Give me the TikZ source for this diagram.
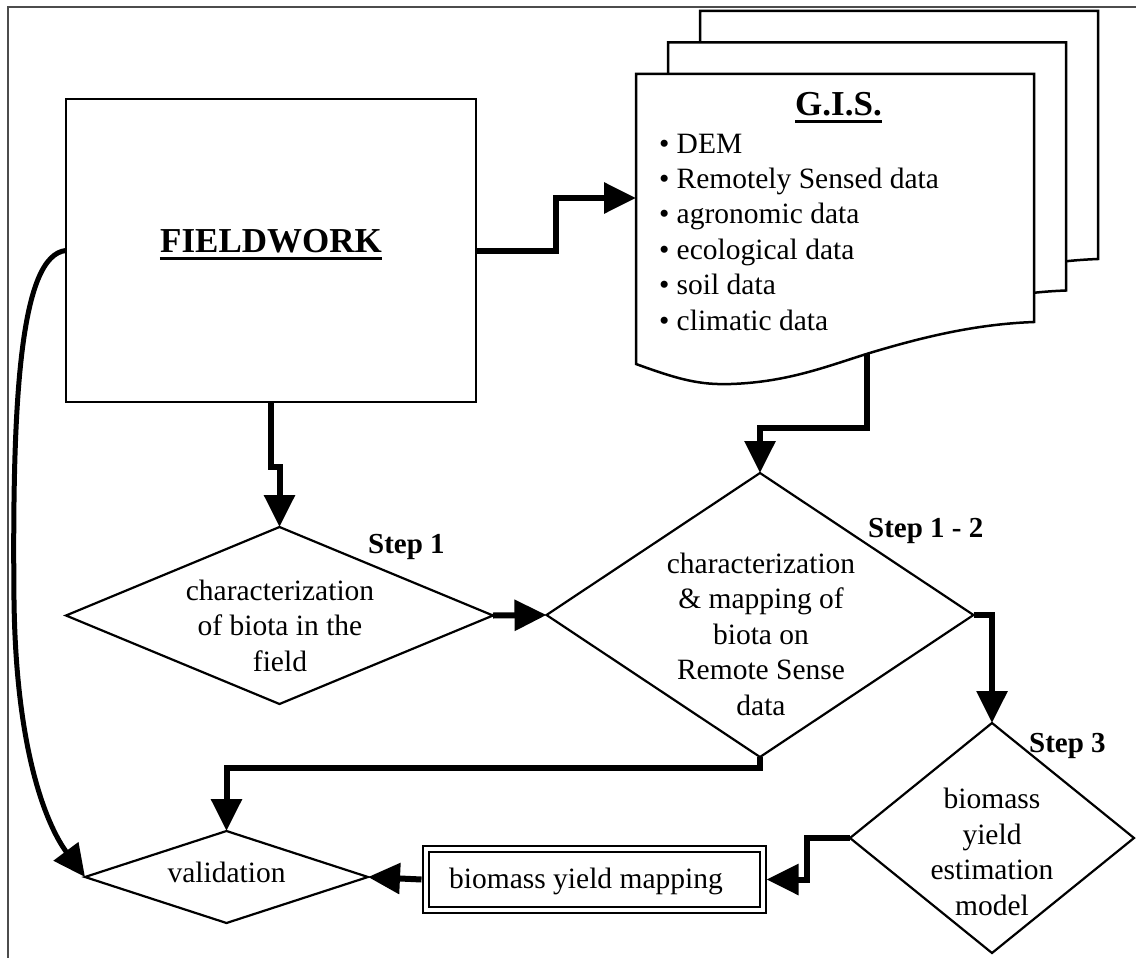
\documentclass[tikz,border=0pt]{standalone}
\usepackage{fontspec}
\setmainfont{Liberation Serif}
\usetikzlibrary{arrows.meta,shapes.geometric}
\begin{document}
\begin{tikzpicture}[x=1pt,y=-1pt,
  conn/.style={line width=6pt,-{Triangle[length=32pt,width=30pt]}},
  dia/.style={diamond,draw,line width=2.2pt,inner sep=0pt,outer sep=0pt,fill=white},
  txt/.style={inner sep=0pt,outer sep=0pt,font=\fontsize{29.5}{35.5}\selectfont},
  steplbl/.style={inner sep=0pt,font=\bfseries\fontsize{29}{35}\selectfont,anchor=base west},
  titletxt/.style={inner sep=0pt,font=\bfseries\fontsize{35}{42}\selectfont,anchor=base},
  page/.style={draw,fill=white,line width=2.5pt,line join=miter}]

\useasboundingbox (0,0) rectangle (1136,958);
\draw[black!70,line width=1.5pt] (1136,7) -- (8,7) -- (8,958);

% G.I.S. stacked pages
\foreach \s in {2,1,0}{
  \draw[page,shift={(32*\s,-31.5*\s)}] (636,74) -- (1034,74) -- (1034,322)
    .. controls (980,324) and (930,335) .. (873,352)
    .. controls (830,365) and (790,382) .. (731,384)
    .. controls (700,385) and (680,380) .. (636,364) -- cycle;
}
\node[draw=none,minimum width=398pt,minimum height=248pt,inner sep=0pt,outer sep=0pt] (gis) at (835,198) {};
\coordinate (gisout) at (867,354);
\node[titletxt] (gist) at (838.5,115) {G.I.S.};
\draw[line width=3pt] ([yshift=-6.5pt]gist.base west) -- ([yshift=-6.5pt]gist.base east);
\foreach \t [count=\i] in {DEM, Remotely Sensed data, agronomic data, ecological data, soil data, climatic data}
  \node[txt,anchor=base west] (gi\i) at (659,{153+35.4*(\i-1)}) {•\ \t};

% FIELDWORK
\node[draw,line width=2.2pt,minimum width=410pt,minimum height=303pt,inner sep=0pt,outer sep=0pt] (fw) at (271,250.5) {};
\node[titletxt] (fwt) at (271,252) {FIELDWORK};
\draw[line width=3pt] ([yshift=-6.5pt]fwt.base west) -- ([yshift=-6.5pt]fwt.base east);

% decisions
\node[dia,minimum width=427pt,minimum height=177pt] (d1) at (279.5,615.5) {};
\node[dia,minimum width=427pt,minimum height=284pt] (d2) at (760,615) {};
\node[dia,minimum width=284pt,minimum height=230pt] (d3) at (992,838) {};
\node[dia,minimum width=283pt,minimum height=92pt] (val) at (226.5,877) {};
\node[draw,double,line width=2pt,double distance=4pt,minimum width=337pt,minimum height=60.5pt,inner sep=0pt,outer sep=4pt] (bym) at (594,879.5) {};

\node[txt,align=center] (d1t) at (280,625.5) {characterization\\of biota in the\\field};
\node[txt,align=center] (d2t) at (761,634) {characterization\\\& mapping of\\biota on\\Remote Sense\\data};
\node[txt,align=center] (d3t) at (992,852) {biomass\\yield\\estimation\\model};
\node[txt,anchor=base] (valt) at (226.5,882) {validation};
\node[txt,anchor=base] (bymt) at (586,888.5) {biomass yield mapping};
\node[steplbl] (s1) at (368,553) {Step 1};
\node[steplbl] (s12) at (868,537) {Step 1 - 2};
\node[steplbl] (s3) at (1029,752) {Step 3};

% connectors
\draw[conn] (fw.east) -- ++(80,0) |- (gis.west);
\draw[conn] (fw.south) -- ++(0,65) -| (d1.north);
\draw[conn] (d1.east) -- (d2.west);
\draw[conn] (gisout) -- ++(0,74) -| (d2.north);
\draw[conn] (d2.east) -| (d3.north);
\draw[conn] (d2.south) -- ++(0,11) -| (val.north);
\draw[conn] (d3.west) -- ++(-43,0) |- (bym.east);
\draw[conn] (bym.west) -- (val.east);
\draw[line width=5pt,-{Triangle[length=32pt,width=30pt]}] (fw.west)
  .. controls (20,255) and (12,400) .. (14,600)
  .. controls (16,760) and (50,830) .. (val.west);
\end{tikzpicture}
\end{document}
